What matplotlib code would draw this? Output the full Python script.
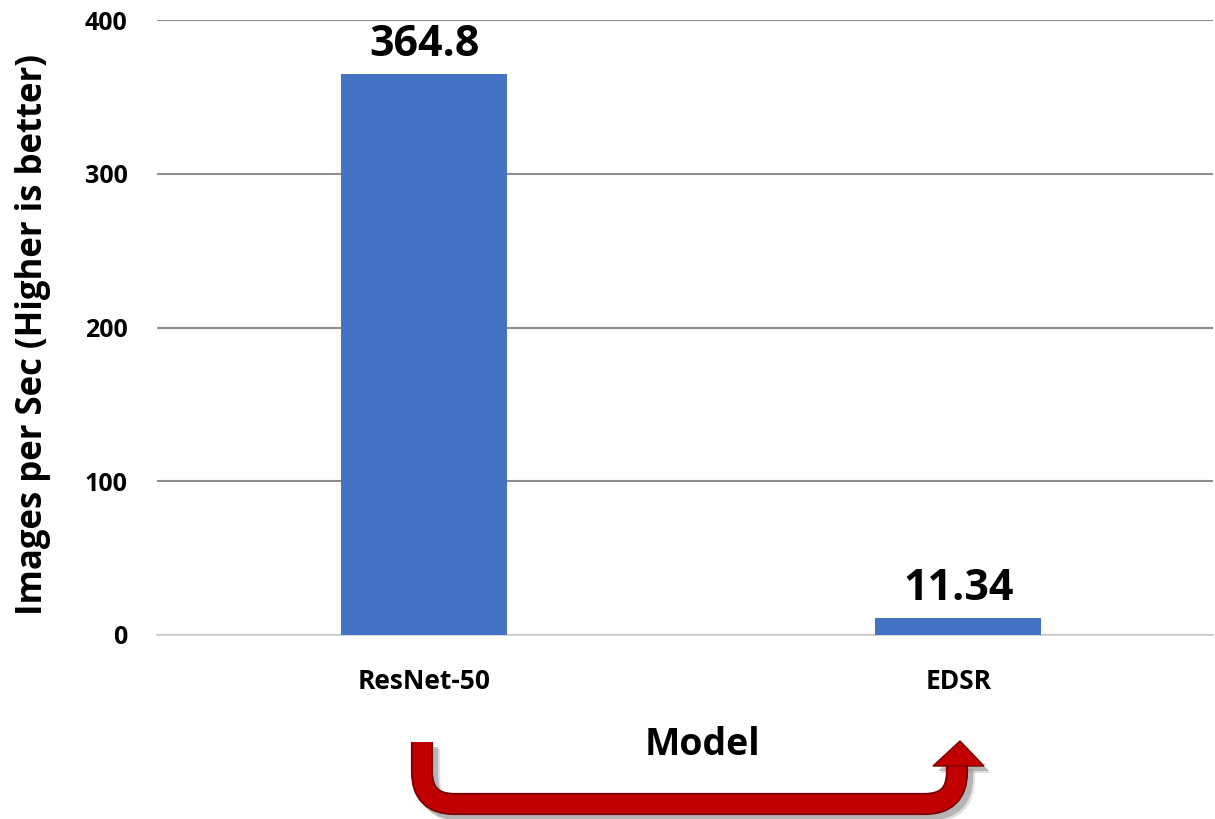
import matplotlib
matplotlib.use("Agg")
import matplotlib.pyplot as plt
from matplotlib.path import Path
from matplotlib.patches import PathPatch, Polygon

# ---- data ----
models = ["ResNet-50", "EDSR"]
images_per_sec = [364.8, 11.34]
value_labels = ["364.8", "11.34"]
y_ticks = [0, 100, 200, 300, 400]

W, H = 1215, 819
plt.rcParams["font.family"] = ["Open Sans", "DejaVu Sans"]
plt.rcParams["font.weight"] = "bold"

fig = plt.figure(figsize=(W / 100, H / 100), dpi=100)
ax = fig.add_axes([157 / W, 1 - 635 / H, (1213 - 157) / W, (635 - 20) / H])

x = list(range(len(models)))
ax.bar(x, images_per_sec, width=0.31, color="#4472C4", zorder=3)
for xi, v, lab in zip(x, images_per_sec, value_labels):
    ax.text(xi, v + 5, lab, ha="center", va="bottom", fontsize=31,
            fontweight="bold", color="black")

ax.set_xlim(-0.5, 1.477)
ax.set_ylim(0, 400)
ax.set_yticks(y_ticks)
ax.set_xticks(x)
ax.set_xticklabels(models, fontsize=19, fontweight="bold")
ax.tick_params(axis="y", labelsize=18, length=0, pad=21)
ax.tick_params(axis="x", length=0, pad=24)
for lbl in ax.get_yticklabels():
    lbl.set_fontweight("bold")

ax.grid(axis="y", color="#8c8c8c", linewidth=1.5, zorder=0)
for s in ["top", "right", "left"]:
    ax.spines[s].set_visible(False)
ax.spines["bottom"].set_color("#d0d0d0")
ax.spines["bottom"].set_linewidth(1.2)

ax.set_ylabel("Images per Sec (Higher is better)", fontsize=25,
              fontweight="bold", va="center")
ax.yaxis.set_label_coords(-0.117, 0.488)
fig.text(702 / W, 1 - 745 / H, "Model", ha="center", va="center",
         fontsize=27, fontweight="bold")


# ---- red U-shaped arrow below the axis ----
def fx(px):
    return px / W


def fy(py):
    return 1 - py / H


def u_path(dx=0, dy=0):
    r = 32
    xl, xr, yt, yb, ya = 422 + dx, 957 + dx, 742 + dy, 804 + dy, 764 + dy
    verts = [
        (xl, yt), (xl, yb - r),
        (xl, yb), (xl + r, yb),
        (xr - r, yb),
        (xr, yb), (xr, yb - r),
        (xr, ya),
    ]
    codes = [Path.MOVETO, Path.LINETO, Path.CURVE3, Path.CURVE3,
             Path.LINETO, Path.CURVE3, Path.CURVE3, Path.LINETO]
    return Path([(fx(a), fy(b)) for a, b in verts], codes)


def head(dx=0, dy=0):
    pts = [(933 + dx, 766 + dy), (960 + dx, 741 + dy), (984 + dx, 766 + dy)]
    return [(fx(a), fy(b)) for a, b in pts]


# soft grey shadow
for off, alpha in [(7, 0.25), (5, 0.5)]:
    fig.add_artist(PathPatch(u_path(off, off), fill=False, lw=16,
                             edgecolor="#8a8a8a", alpha=alpha, capstyle="butt",
                             joinstyle="round", transform=fig.transFigure))
    fig.add_artist(Polygon(head(off, off), closed=True, facecolor="#8a8a8a",
                           alpha=alpha, edgecolor="none",
                           transform=fig.transFigure))
# arrow body
fig.add_artist(PathPatch(u_path(), fill=False, lw=16, edgecolor="#7a0000",
                         capstyle="butt", joinstyle="round",
                         transform=fig.transFigure))
fig.add_artist(PathPatch(u_path(), fill=False, lw=13.5, edgecolor="#c00000",
                         capstyle="butt", joinstyle="round",
                         transform=fig.transFigure))
fig.add_artist(Polygon(head(), closed=True, facecolor="#c00000",
                       edgecolor="#7a0000", lw=1, transform=fig.transFigure))

fig.savefig("out.png", dpi=100)
